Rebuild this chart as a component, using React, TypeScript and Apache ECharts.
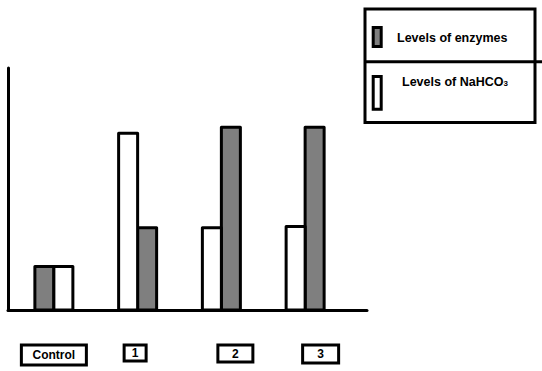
import React, { useEffect, useRef } from "react";
import * as echarts from "echarts";

// ---- data ----
const categories = ["Control", "1", "2", "3"];
const enzymeLevels = [1.8, 3.4, 7.55, 7.55];
const nahco3Levels = [1.8, 7.3, 3.4, 3.45];
// which bar comes first (left) in each group
const leftBar = ["enzymes", "nahco3", "nahco3", "nahco3"];
const seriesNames = ["Levels of enzymes", "Levels of NaHCO3"];

const GRAY = "#7f7f7f";
const FONT = "Liberation Sans";
const BAR_W = 19;

function makeRender(key: string, fill: string) {
  return (params: any, api: any) => {
    const ci = api.value(0);
    const v = api.value(1);
    const base = api.coord([ci, 0]);
    const top = api.coord([ci, v]);
    const cx = base[0];
    const x = leftBar[ci] === key ? cx - BAR_W : cx;
    return {
      type: "rect",
      shape: { x, y: top[1], width: BAR_W, height: base[1] - top[1] },
      style: { fill, stroke: "#000", lineWidth: 3, lineJoin: "round" },
    };
  };
}

export default function App() {
  const ref = useRef<HTMLDivElement>(null);
  useEffect(() => {
    if (!ref.current) return;
    const chart = echarts.init(ref.current, undefined, { renderer: "svg" });
    const labelBox = (w: number, h: number) => ({
      width: w,
      height: h,
      lineHeight: h,
      align: "center",
      borderColor: "#000",
      borderWidth: 3,
      fontFamily: FONT,
      fontWeight: "bold",
      fontSize: 12,
      color: "#000",
    });
    chart.setOption({
      animation: false,
      backgroundColor: "#fff",
      grid: [
        { left: 8, top: 68, width: 359, bottom: 61 },
        { left: 12, top: 68, width: 335, bottom: 61 },
      ],
      xAxis: [
        {
          gridIndex: 0,
          type: "value",
          min: 0,
          max: 1,
          axisLine: { show: true, lineStyle: { color: "#000", width: 3 } },
          axisTick: { show: false },
          axisLabel: { show: false },
          splitLine: { show: false },
        },
        {
          gridIndex: 1,
          type: "category",
          data: categories,
          axisLine: { show: false },
          axisTick: { show: false },
          splitLine: { show: false },
          axisLabel: {
            margin: 35,
            formatter: (v: string, i: number) => {
              if (i === 0) return `{b0|${v}}`;
              if (i === 1) return `{b1|${v}}{sp1|}`;
              if (i === 2) return `{sp2|}{b2|${v}}`;
              return `{sp3|}{b3|${v}}`;
            },
            rich: {
              b0: labelBox(65, 20),
              b1: labelBox(22, 16),
              b2: labelBox(35, 17),
              b3: labelBox(36, 18),
              sp1: { width: 5 },
              sp2: { width: 28 },
              sp3: { width: 31 },
            },
          },
        },
      ],
      yAxis: [
        {
          gridIndex: 0,
          type: "value",
          min: 0,
          max: 10,
          axisLine: { show: true, lineStyle: { color: "#000", width: 3 } },
          axisTick: { show: false },
          axisLabel: { show: false },
          splitLine: { show: false },
        },
        { gridIndex: 1, type: "value", min: 0, max: 10, show: false, splitLine: { show: false } },
      ],
      series: [
        {
          name: seriesNames[0],
          type: "custom",
          xAxisIndex: 1,
          yAxisIndex: 1,
          encode: { x: 0, y: 1 },
          data: categories.map((_, i) => [i, enzymeLevels[i]]),
          renderItem: makeRender("enzymes", GRAY),
        },
        {
          name: seriesNames[1],
          type: "custom",
          xAxisIndex: 1,
          yAxisIndex: 1,
          encode: { x: 0, y: 1 },
          data: categories.map((_, i) => [i, nahco3Levels[i]]),
          renderItem: makeRender("nahco3", "#fff"),
        },
      ],
      graphic: [
        {
          type: "rect",
          shape: { x: 365, y: 9, width: 170, height: 113.5 },
          style: { fill: "none", stroke: "#000", lineWidth: 3 },
        },
        {
          type: "line",
          shape: { x1: 365, y1: 61.7, x2: 542, y2: 61.7 },
          style: { stroke: "#000", lineWidth: 3 },
        },
        {
          type: "rect",
          shape: { x: 373.2, y: 27.5, width: 8, height: 19 },
          style: { fill: GRAY, stroke: "#000", lineWidth: 3 },
        },
        {
          type: "rect",
          shape: { x: 373.2, y: 76.5, width: 8, height: 32.7 },
          style: { fill: "#fff", stroke: "#000", lineWidth: 3 },
        },
        {
          type: "text",
          x: 397,
          y: 37.5,
          style: {
            text: seriesNames[0],
            fontFamily: FONT,
            fontWeight: "bold",
            fontSize: 12.5,
            fill: "#000",
            verticalAlign: "middle",
          },
        },
        {
          type: "text",
          x: 402,
          y: 82,
          style: {
            text: "{t|Levels of NaHCO}{s|3}",
            verticalAlign: "middle",
            rich: {
              t: { fontFamily: FONT, fontWeight: "bold", fontSize: 12.5, color: "#000", lineHeight: 14 },
              s: {
                fontFamily: FONT,
                fontWeight: "bold",
                fontSize: 8,
                color: "#000",
                verticalAlign: "bottom",
                padding: [0, 0, 2, 0],
              },
            },
          },
        },
      ],
    });
    return () => chart.dispose();
  }, []);
  return (
    <div
      ref={ref}
      style={{ position: "absolute", left: 0, top: 0, width: 542, height: 371 }}
    />
  );
}
